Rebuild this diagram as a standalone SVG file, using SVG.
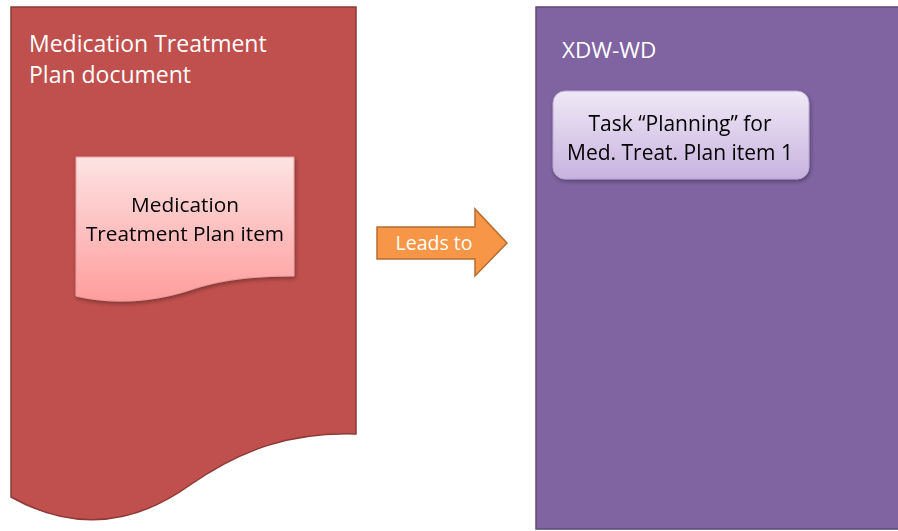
<svg xmlns="http://www.w3.org/2000/svg" width="898" height="531" viewBox="0 0 898 531">
<defs>
<linearGradient id="gItem" x1="0" y1="0" x2="0" y2="1">
<stop offset="0" stop-color="#fde3e3"/>
<stop offset="1" stop-color="#ff9d9d"/>
</linearGradient>
<linearGradient id="gTask" x1="0" y1="0" x2="0" y2="1">
<stop offset="0" stop-color="#efe9f6"/>
<stop offset="1" stop-color="#c8b2df"/>
</linearGradient>
<filter id="sh" x="-10%" y="-10%" width="130%" height="130%">
<feDropShadow dx="1" dy="2" stdDeviation="2" flood-color="#000" flood-opacity="0.35"/>
</filter>
<style>
.t{font-family:"Open Sans","Liberation Sans",sans-serif;}
.w{fill:#ffffff;}
.b{fill:#000000;}
</style>
</defs>
<g id="doc">
<path d="M11,7 H356 V434 C290,432 240,450 190,485 C130,528 70,530 11,497 Z" fill="#c0504d" stroke="#8c3836" stroke-width="1.5"/>
<text class="t w" x="29" y="52" font-size="23">Medication Treatment</text>
<text class="t w" x="29" y="83" font-size="23">Plan document</text>
</g>
<g id="item" filter="url(#sh)">
<path d="M76,157 H294 V276 C250,276 220,280 190,290 C150,303 110,304 76,296 Z" fill="url(#gItem)" stroke="#e8a0a0" stroke-width="1"/>
<text class="t b" x="185" y="212" font-size="20.8" text-anchor="middle">Medication</text>
<text class="t b" x="185" y="241" font-size="20.8" text-anchor="middle">Treatment Plan item</text>
</g>
<g id="xdw">
<rect x="536" y="7" width="370" height="522" fill="#8064a2" stroke="#5c4776" stroke-width="1.5"/>
<text class="t w" x="562" y="58" font-size="22.5">XDW-WD</text>
</g>
<g id="task" filter="url(#sh)">
<rect x="553" y="91" width="256" height="88" rx="12" ry="12" fill="url(#gTask)" stroke="#b9a6d2" stroke-width="1"/>
<text class="t b" x="680" y="131" font-size="21" text-anchor="middle">Task “Planning” for</text>
<text class="t b" x="680" y="160" font-size="21" text-anchor="middle">Med. Treat. Plan item 1</text>
</g>
<g id="connectors">
<g id="leadsTo">
<path d="M377,227 H475 V209 L507,243 L475,276 V259 H377 Z" fill="#f79646" stroke="#b66d31" stroke-width="1.5"/>
<text class="t w" x="434" y="250" font-size="19.5" text-anchor="middle">Leads to</text>
</g>
</g>
</svg>
